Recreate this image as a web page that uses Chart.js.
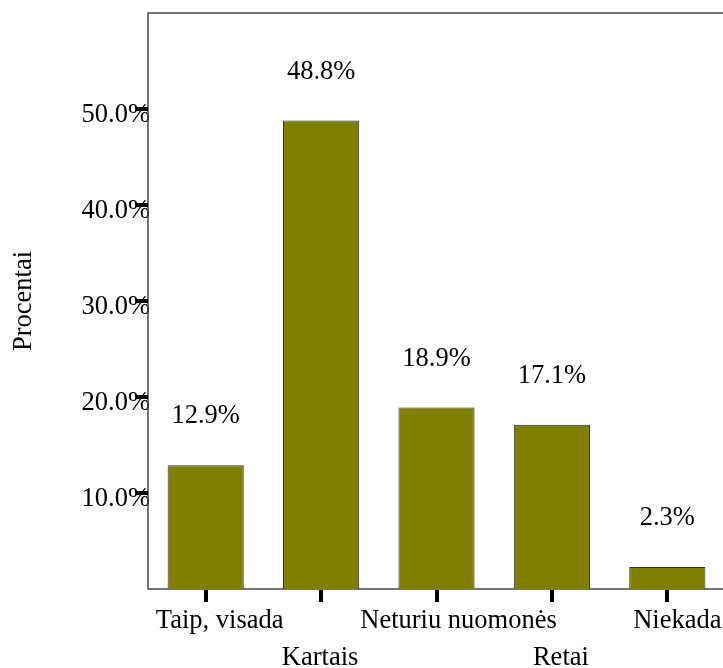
<!DOCTYPE html>
<html>
<head>
<meta charset="utf-8">
<script src="https://cdn.jsdelivr.net/npm/chart.js@4"></script>
<style>
  html, body { margin: 0; padding: 0; background: #fff; overflow: hidden; }
  #wrap { width: 726px; height: 668px; position: relative; }
</style>
</head>
<body>
<div id="wrap"><canvas id="c" width="726" height="668"></canvas></div>
<script>
// Survey answers and their share of respondents (%)
const categories = ["Taip, visada", "Kartais", "Neturiu nuomonės", "Retai", "Niekada"];
const percentages = [12.9, 48.8, 18.9, 17.1, 2.3];
const yTickValues = [10, 20, 30, 40, 50];
const yAxisTitle = "Procentai";

// Text styling
const FONT_FAMILY = "'Liberation Serif', 'Times New Roman', serif";
const FONT_PX = 26.5;
const FONT = FONT_PX + 'px ' + FONT_FAMILY;
// Horizontal nudge of each category label away from its tick (px)
const xLabelShift = [14, -1, 22, 9, 10];
// Tick mark geometry (px)
const TICK_LEN = 13;
const TICK_THICK = 4;

function drawText(ctx, str, x, y, align) {
  ctx.save();
  ctx.font = FONT;
  ctx.fillStyle = '#000';
  ctx.textAlign = align;
  ctx.textBaseline = 'alphabetic';
  ctx.fillText(str, x, y);
  ctx.restore();
}

// Axis tick labels, painted underneath the tick marks and frame
const axisLabelPlugin = {
  id: 'axisLabels',
  beforeDraw(chart) {
    const { ctx, scales: { x, y } } = chart;
    yTickValues.forEach(v => {
      drawText(ctx, v.toFixed(1) + '%', 150, y.getPixelForValue(v) + 13, 'right');
    });
    categories.forEach((c, i) => {
      const px = x.getPixelForTick(i) + xLabelShift[i];
      const baseline = x.top + (i % 2 === 0 ? 39 : 76);
      drawText(ctx, c, px, baseline, 'center');
    });
  }
};

// Frame around the plot area (its right side falls on the canvas edge)
const framePlugin = {
  id: 'frame',
  beforeDatasetsDraw(chart) {
    const { ctx, chartArea: a } = chart;
    ctx.save();
    ctx.strokeStyle = '#4a4a4a';
    ctx.lineWidth = 1.5;
    ctx.strokeRect(a.left, a.top, a.right - a.left, a.bottom - a.top);
    ctx.restore();
  }
};

// Bold tick marks on both axes, drawn over the labels they touch
const tickMarkPlugin = {
  id: 'tickMarks',
  afterDatasetsDraw(chart) {
    const { ctx, chartArea: a, scales: { x, y } } = chart;
    ctx.save();
    ctx.fillStyle = '#000';
    yTickValues.forEach(v => {
      const py = Math.round(y.getPixelForValue(v));
      ctx.fillRect(a.left - TICK_LEN, py - TICK_THICK / 2, TICK_LEN, TICK_THICK);
    });
    categories.forEach((c, i) => {
      const px = Math.round(x.getPixelForTick(i));
      ctx.fillRect(px - TICK_THICK / 2, a.bottom + 1, TICK_THICK, TICK_LEN - 1);
    });
    ctx.restore();
  }
};

// Percentage labels above each bar
const valueLabelPlugin = {
  id: 'valueLabels',
  afterDatasetsDraw(chart) {
    const meta = chart.getDatasetMeta(0);
    meta.data.forEach((bar, i) => {
      drawText(chart.ctx, percentages[i].toFixed(1) + '%', bar.x, bar.y - 42, 'center');
    });
  }
};

new Chart(document.getElementById('c'), {
  type: 'bar',
  data: {
    labels: categories,
    datasets: [{
      data: percentages,
      backgroundColor: '#808000',
      borderColor: '#333333',
      borderWidth: 1,
      categoryPercentage: 1.0,
      barPercentage: 0.66
    }]
  },
  options: {
    responsive: false,
    animation: false,
    events: [],
    layout: { padding: { left: 0, top: 13, right: 1, bottom: 0 } },
    plugins: {
      legend: { display: false },
      tooltip: { enabled: false }
    },
    scales: {
      x: {
        offset: true,
        grid: { display: false },
        border: { display: false },
        ticks: { display: false },
        afterFit(scale) { scale.height = 79; }
      },
      y: {
        min: 0,
        max: 60,
        afterBuildTicks(scale) {
          scale.ticks = yTickValues.map(v => ({ value: v }));
        },
        afterFit(scale) { scale.width = 148; },
        grid: { display: false },
        border: { display: false },
        ticks: { display: false },
        title: {
          display: true,
          text: yAxisTitle,
          color: '#000',
          padding: { top: 8, bottom: 0 },
          font: { family: FONT_FAMILY, size: FONT_PX, lineHeight: 1.2 }
        }
      }
    }
  },
  plugins: [axisLabelPlugin, framePlugin, tickMarkPlugin, valueLabelPlugin]
});
</script>
</body>
</html>
